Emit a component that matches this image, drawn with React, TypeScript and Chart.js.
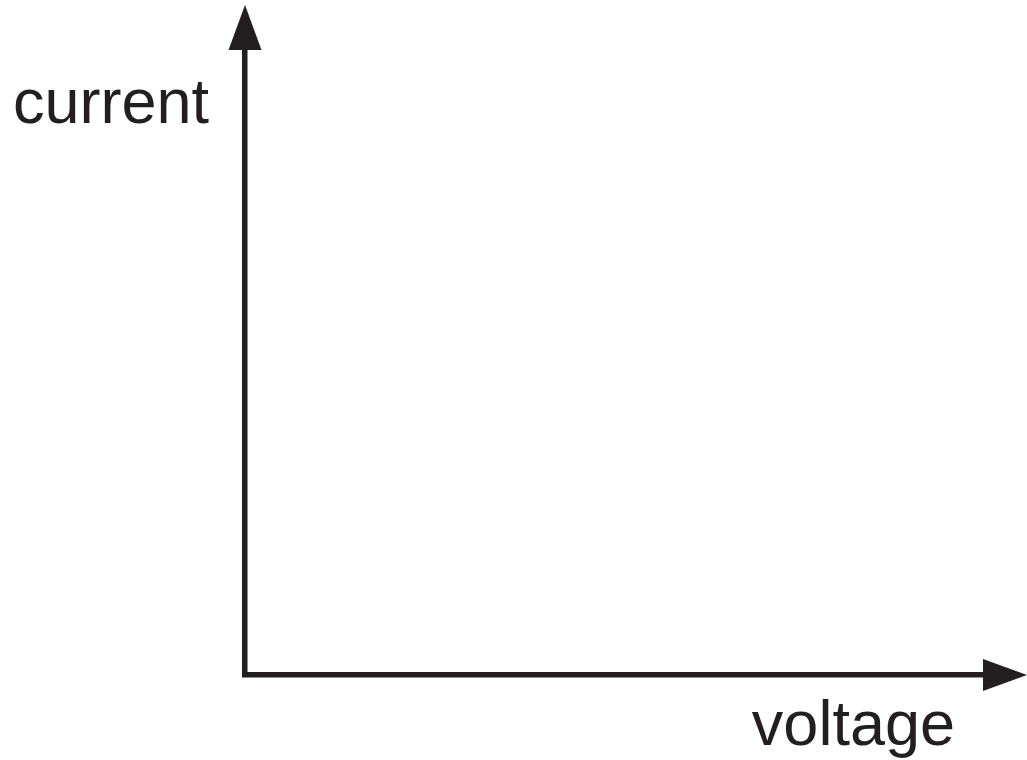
import React, { useEffect, useRef } from "react";
import { Chart, registerables } from "chart.js";

Chart.register(...registerables);

// Chart content (schematic axes, no data series)
const xAxisLabel = "voltage";
const yAxisLabel = "current";
const seriesPoints: { x: number; y: number }[] = [];
const xRange = [0, 10];
const yRange = [0, 10];

const INK = "#231f20";

const axesDecor = {
  id: "axesDecor",
  afterDraw(chart: any) {
    const { ctx, chartArea } = chart;
    const xs = chart.scales.x;
    const ys = chart.scales.y;
    const ox = xs.getPixelForValue(xRange[0]);
    const oy = ys.getPixelForValue(yRange[0]);
    const topY = ys.getPixelForValue(yRange[1]);
    const rightX = xs.getPixelForValue(xRange[1]);
    ctx.save();
    ctx.fillStyle = INK;
    // vertical arrow head
    ctx.beginPath();
    ctx.moveTo(ox, topY - 45);
    ctx.lineTo(ox + 16.5, topY);
    ctx.lineTo(ox - 16.5, topY);
    ctx.closePath();
    ctx.fill();
    // horizontal arrow head
    ctx.beginPath();
    ctx.moveTo(rightX + 44, oy);
    ctx.lineTo(rightX, oy - 16);
    ctx.lineTo(rightX, oy + 16);
    ctx.closePath();
    ctx.fill();
    // labels
    ctx.font = "63px 'Liberation Sans', Arial, sans-serif";
    ctx.textBaseline = "alphabetic";
    ctx.textAlign = "right";
    ctx.fillText(yAxisLabel, chartArea.left - 36, chartArea.top + 73);
    ctx.fillText(xAxisLabel, chartArea.right - 28, chartArea.bottom + 70);
    ctx.restore();
  },
};

export default function App() {
  const ref = useRef<HTMLCanvasElement | null>(null);
  useEffect(() => {
    document.body.style.margin = "0";
    const canvas = ref.current!;
    const chart = new Chart(canvas, {
      type: "scatter",
      data: {
        datasets: [{ data: seriesPoints, pointRadius: 0 }],
      },
      options: {
        animation: false,
        responsive: false,
        maintainAspectRatio: false,
        layout: { padding: { left: 245, right: 44, top: 50, bottom: 85 } },
        plugins: { legend: { display: false }, tooltip: { enabled: false } },
        scales: {
          x: {
            type: "linear",
            min: xRange[0],
            max: xRange[1],
            grid: { display: false, drawTicks: false },
            ticks: { display: false },
            border: { display: true, color: INK, width: 5.5 },
          },
          y: {
            type: "linear",
            min: yRange[0],
            max: yRange[1],
            grid: { display: false, drawTicks: false },
            ticks: { display: false },
            border: { display: true, color: INK, width: 5.5 },
          },
        },
      },
      plugins: [axesDecor],
    });
    return () => chart.destroy();
  }, []);
  return (
    <div style={{ width: 1027, height: 760, background: "#fff" }}>
      <canvas ref={ref} width={1027} height={760} style={{ display: "block" }} />
    </div>
  );
}
